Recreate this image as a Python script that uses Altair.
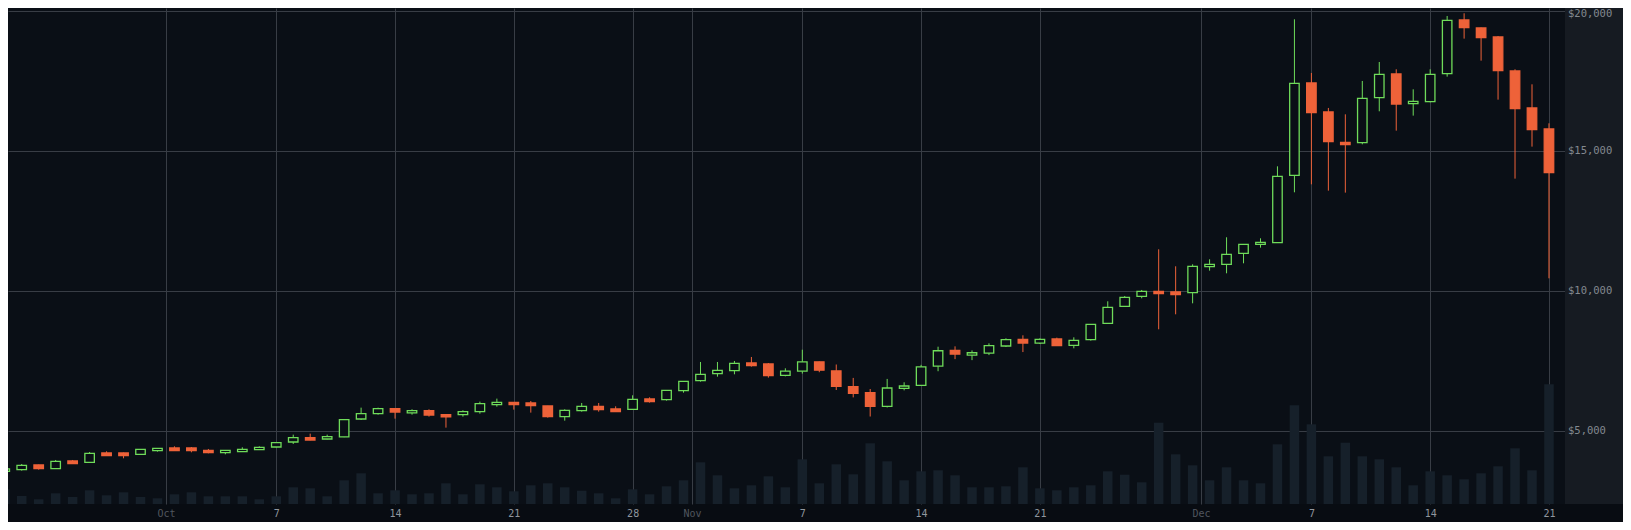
import altair as alt
import pandas as pd

# ---- data (daily candles, 2017-09-21 .. 2017-12-21) ----
start_date = "2017-09-21"

opens = [3571, 3631, 3798, 3667, 3940, 3893, 4226, 4226, 4179, 4310,
         4405, 4405, 4321, 4238, 4274, 4345, 4440, 4619, 4774, 4726,
         4798, 5440, 5631, 5810, 5655, 5738, 5595, 5595, 5702, 5952,
         6036, 6012, 5905, 5524, 5738, 5893, 5798, 5786, 6155, 6131,
         6452, 6810, 7060, 7167, 7440, 7405, 7000, 7146, 7482, 7158,
         6595, 6379, 5887, 6535, 6643, 7326, 7890, 7722, 7794, 8046,
         8285, 8153, 8298, 8071, 8274, 8857, 9464, 9821, 10000, 9976,
         9952, 10881, 10964, 11357, 11679, 11738, 14143, 17440, 16405, 15321,
         15310, 16917, 17762, 16702, 16774, 17774, 19690, 19405, 19083, 17869,
         16548, 15798]

highs = [3670, 3833, 3810, 3976, 3976, 4262, 4286, 4240, 4365, 4400,
         4464, 4440, 4369, 4330, 4429, 4464, 4605, 4881, 4917, 4881,
         5430, 5845, 5845, 5830, 5786, 5786, 5600, 5750, 6060, 6167,
         6045, 6083, 5910, 5786, 6012, 6012, 5893, 6286, 6214, 6470,
         6795, 7476, 7476, 7512, 7655, 7440, 7250, 7914, 7490, 7386,
         6907, 6511, 6871, 6751, 7374, 8022, 8034, 7890, 8142, 8321,
         8429, 8321, 8345, 8357, 8830, 9643, 9833, 10048, 11500, 10893,
         10964, 11143, 11929, 11690, 11893, 14464, 19714, 17798, 16548, 16321,
         17512, 18190, 17929, 17214, 17929, 19833, 19929, 19420, 19119, 17929,
         17393, 16000]

lows = [3560, 3595, 3631, 3660, 3840, 3890, 4125, 4036, 4170, 4274,
        4300, 4250, 4214, 4179, 4262, 4340, 4430, 4548, 4680, 4715,
        4790, 5405, 5595, 5452, 5595, 5524, 5131, 5524, 5631, 5881,
        5774, 5667, 5488, 5381, 5702, 5702, 5690, 5780, 6024, 6095,
        6381, 6774, 6952, 7036, 7310, 6917, 6964, 7062, 7110, 6475,
        6211, 5528, 5851, 6463, 6630, 7146, 7578, 7542, 7722, 8010,
        7830, 8118, 8055, 7964, 8238, 8850, 9450, 9750, 8643, 9179,
        9571, 10738, 10643, 11000, 11560, 11730, 13536, 13821, 13595, 13524,
        15250, 16429, 15738, 16274, 16750, 17667, 19024, 18238, 16845, 14024,
        15167, 10464]

closes = [3655, 3786, 3667, 3929, 3845, 4214, 4131, 4131, 4357, 4393,
          4310, 4310, 4238, 4321, 4357, 4429, 4595, 4774, 4690, 4810,
          5417, 5631, 5810, 5690, 5738, 5583, 5512, 5702, 5988, 6036,
          5952, 5917, 5524, 5750, 5893, 5774, 5702, 6143, 6060, 6464,
          6786, 7036, 7179, 7429, 7345, 6988, 7150, 7482, 7182, 6607,
          6355, 5887, 6547, 6619, 7302, 7878, 7758, 7806, 8058, 8273,
          8153, 8280, 8060, 8250, 8821, 9429, 9786, 10000, 9917, 9881,
          10893, 10964, 11321, 11679, 11750, 14107, 17429, 16381, 15345, 15238,
          16893, 17750, 16690, 16786, 17750, 19679, 19417, 19060, 17881, 16524,
          15774, 14238]

# relative volume (arbitrary units)
volumes = [14.7, 8, 4.7, 10.7, 7, 13.7, 8.7, 11.7, 7, 5.7, 9.7, 11.7, 7.7, 7.7, 7.7, 4.7,
           7.7, 16.7, 15.7, 7.7, 23.7, 30.7, 10.7, 13.7, 9.7, 10.7, 20.7, 9.7, 19.7, 16.7, 12.7, 18.7,
           20.7, 16.7, 13.3, 10.7, 5.7, 14.7, 9.7, 17.7, 23.7, 41.7, 28.7, 15.7, 18.7, 27.7, 16.7,
           44.7, 20.7, 39.7, 29.7, 60.7, 42.7, 23.7, 32.7, 33.7, 28.7, 16.7, 16.7, 17.7, 36.7, 15.7,
           13.7, 16.7, 18.7, 32.7, 29.3, 21.7, 81.3, 49.7, 38.7, 23.7, 36.7, 23.7, 20.7, 59.7,
           98.7, 79.7, 47.7, 61.3, 47.7, 44.7, 36.7, 18.7, 32.7, 28.7, 24.7, 30.7, 37.7, 55.7, 33.7, 119.7]

price_ticks = [5000, 10000, 15000, 20000]
# (month, day) weekly ticks; month ticks sit half a day before the 1st
week_ticks = [(10, 7), (10, 14), (10, 21), (10, 28), (11, 7), (11, 14), (11, 21),
              (12, 7), (12, 14), (12, 21)]
month_ticks = [(9, 30), (10, 31), (11, 30)]

# ---- styling ----
BG = "#080c12"
PLOT = "#0a0f16"
GRID = "#383d45"
GREEN = "#6fdc5a"
RED = "#ee6239"
VOL = "#16202a"
PANEL = "#161b22"
MONO = "DejaVu Sans Mono"

W, H = 1557, 496
PRICE_DOMAIN = [2404, 20118]
VOL_DOMAIN = [0, 496]

dates = pd.date_range(start_date, periods=len(opens), freq="D").strftime("%Y-%m-%dT00:00:00Z")
df = pd.DataFrame({
    "date": list(dates),
    "open": opens, "high": highs, "low": lows, "close": closes,
    "volume": volumes,
})
df["dir"] = ["up" if c >= o else "down" for o, c in zip(opens, closes)]


def dt(m, d, h=0, mi=0):
    return alt.DateTime(year=2017, month=m, date=d, hours=h, minutes=mi, utc=True)


tick_values = [dt(m, d) for m, d in week_ticks] + [dt(m, d, 12) for m, d in month_ticks]

is_month = "utchours(datum.value) == 12"
x_enc = alt.X(
    "date:T",
    scale=alt.Scale(type="utc", domain=[dt(9, 21, 11, 40), dt(12, 21, 15, 36)]),
    axis=alt.Axis(
        values=tick_values,
        labelExpr=f"{is_month} ? utcFormat(time(datum.value) + 43200000, '%b') : utcFormat(datum.value, '%-d')",
        labelColor={"condition": {"test": is_month, "value": "#50565e"}, "value": "#90969e"},
        grid=True, gridColor=GRID, gridWidth=1,
        domain=False, ticks=False, tickSize=0,
        labelPadding=4, labelFont=MONO, labelFontSize=10,
        labelOverlap=False, labelFlush=False,
        orient="bottom", title=None,
    ),
)

color_scale = alt.Scale(domain=["up", "down"], range=[GREEN, RED])
fill_scale = alt.Scale(domain=["up", "down"], range=[PLOT, RED])
price_scale = alt.Scale(domain=PRICE_DOMAIN, nice=False, zero=False)

base = alt.Chart(df)

volume = base.mark_bar(size=9.5, color=VOL, clip=True).encode(
    x=x_enc,
    y=alt.Y("volume:Q", scale=alt.Scale(domain=VOL_DOMAIN, nice=False, zero=True), axis=None),
)

wicks = base.mark_rule(strokeWidth=1, clip=True).encode(
    x=x_enc,
    y=alt.Y("low:Q", scale=price_scale,
            axis=alt.Axis(values=price_ticks, grid=True, gridColor=GRID, gridWidth=1,
                          labels=False, ticks=False, domain=False, title=None, orient="right")),
    y2="high:Q",
    color=alt.Color("dir:N", scale=color_scale, legend=None),
)

bodies = base.mark_bar(size=9.5, strokeWidth=1.3, clip=True).encode(
    x=x_enc,
    y=alt.Y("open:Q", scale=price_scale, axis=None),
    y2="close:Q",
    fill=alt.Fill("dir:N", scale=fill_scale, legend=None),
    stroke=alt.Stroke("dir:N", scale=color_scale, legend=None),
)

panel = alt.Chart(pd.DataFrame({"p": [0]})).mark_rect(color=PANEL).encode(
    x=alt.value(W), x2=alt.value(W + 58), y=alt.value(0), y2=alt.value(H)
)

tick_df = pd.DataFrame({"price": price_ticks, "label": [f"${p:,}" for p in price_ticks]})
label_base = alt.Chart(tick_df)
text_props = dict(align="left", baseline="middle", font=MONO, fontSize=10.5, color="#838990")

price_labels = label_base.mark_text(**text_props).encode(
    x=alt.value(W + 3),
    y=alt.Y("price:Q", scale=price_scale, axis=None),
    text="label:N",
).transform_filter(f"datum.price < {max(price_ticks)}")

# the top label sits at the very edge of the page: nudge it down so it is not cut off
top_label = label_base.mark_text(dy=3, **text_props).encode(
    x=alt.value(W + 3),
    y=alt.Y("price:Q", scale=price_scale, axis=None),
    text="label:N",
).transform_filter(f"datum.price == {max(price_ticks)}")

chart = alt.layer(volume, wicks, bodies, panel, price_labels, top_label).resolve_scale(
    y="independent"
).properties(
    width=W, height=H,
    background=BG,
    padding={"left": 0, "top": 0, "right": 58, "bottom": 18},
    autosize=alt.AutoSizeParams(type="none"),
).configure_view(fill=PLOT, stroke=None)

chart.save("out.html", embed_options={"renderer": "svg", "actions": False})
